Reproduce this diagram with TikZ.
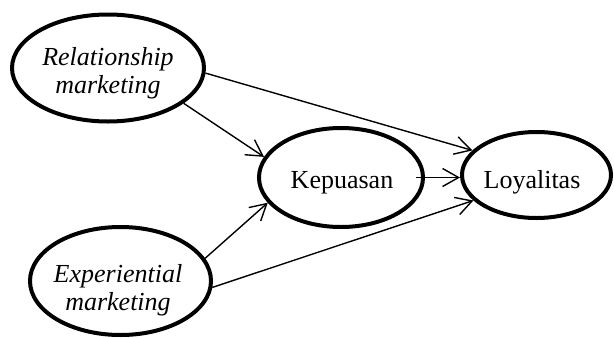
\documentclass[tikz,border=0pt]{standalone}
\usepackage{fontspec}
\setmainfont{Liberation Serif}
\usetikzlibrary{shapes.geometric,arrows.meta}

\begin{document}
\begin{tikzpicture}[x=1pt,y=-1pt,
  var/.style={ellipse,draw,line width=4pt,inner sep=0pt},
  txt/.style={align=center,inner sep=0pt,font=\fontsize{26}{28}\selectfont},
  itxt/.style={txt,font=\fontsize{26}{28}\selectfont\itshape},
  arr/.style={line width=1.4pt,-{Straight Barb[length=16pt,width=18pt]}}]
\useasboundingbox (0,0) rectangle (614,338);
\node[var,minimum width=192pt,minimum height=107pt] (rel) at (108,68) {};
\node[itxt] (reltxt) at (108,73) {Relationship\\marketing};
\node[var,minimum width=181pt,minimum height=108pt] (exp) at (120.5,281) {};
\node[itxt] (exptxt) at (118,290) {Experiential\\marketing};
\node[var,minimum width=164pt,minimum height=99pt] (kep) at (341,177.5) {};
\node[txt,anchor=base] (keptxt) at (342,188) {Kepuasan};
\node[var,minimum width=149pt,minimum height=86pt] (loy) at (536.5,175) {};
\node[txt,anchor=base] (loytxt) at (532,188) {Loyalitas};
\draw[arr] (rel.-3) -- (loy.159);
\draw[arr] (rel.-25) -- (kep.165);
\draw[arr] (exp.15) -- (kep.-161);
\draw[arr] (exp.-4) -- (loy.-158);
\draw[arr,shorten <=-9pt] (kep.east) -- (kep.east -| loy.west);
\end{tikzpicture}
\end{document}
